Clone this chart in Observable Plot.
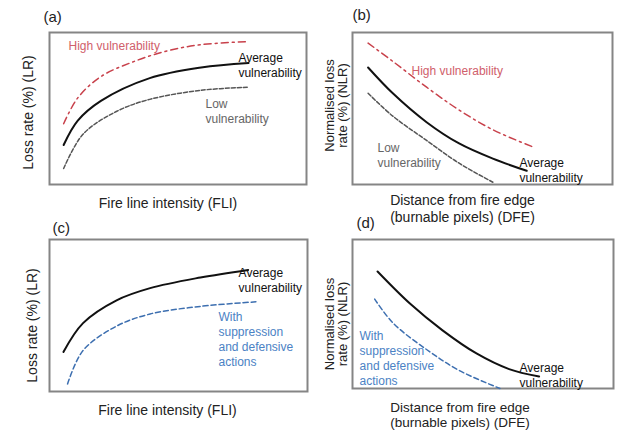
<!DOCTYPE html>
<html><head><meta charset="utf-8">
<script src="https://cdn.jsdelivr.net/npm/d3@7"></script>
<script src="https://cdn.jsdelivr.net/npm/@observablehq/plot@0.6"></script>
<style>
body{margin:0;background:#fff}
#chart{position:relative;width:618px;height:433px;font-family:"Liberation Sans",Arial,sans-serif;overflow:hidden}
#chart svg{position:absolute}
</style>
</head><body><div id="chart"></div>
<script>
// ---- Data (conceptual curves, normalised 0..1 within each panel) ----
const aAvgX  = [0.055, 0.11, 0.2, 0.39, 0.59, 0.775];
const aAvgY  = [0.26, 0.42, 0.55, 0.70, 0.77, 0.80];
const aHighX = [0.055, 0.11, 0.2, 0.33, 0.46, 0.59, 0.77];
const aHighY = [0.40, 0.57, 0.71, 0.81, 0.88, 0.92, 0.94];
const aLowX  = [0.055, 0.13, 0.26, 0.39, 0.59, 0.775];
const aLowY  = [0.105, 0.33, 0.48, 0.56, 0.62, 0.64];

const bAvgX  = [0.06, 0.155, 0.285, 0.41, 0.54, 0.67];
const bAvgY  = [0.77, 0.60, 0.41, 0.27, 0.17, 0.09];
const bHighX = [0.06, 0.155, 0.285, 0.41, 0.54, 0.69];
const bHighY = [0.93, 0.81, 0.64, 0.49, 0.36, 0.25];
const bLowX  = [0.06, 0.155, 0.285, 0.41, 0.54];
const bLowY  = [0.60, 0.45, 0.29, 0.14, 0.015];

const cAvgX  = [0.054, 0.13, 0.26, 0.39, 0.585, 0.77];
const cAvgY  = [0.26, 0.45, 0.60, 0.68, 0.75, 0.80];
const cSupX  = [0.07, 0.13, 0.26, 0.39, 0.585, 0.80];
const cSupY  = [0.05, 0.27, 0.43, 0.51, 0.56, 0.59];

const dAvgX  = [0.096, 0.22, 0.345, 0.475, 0.60, 0.715];
const dAvgY  = [0.785, 0.57, 0.39, 0.235, 0.13, 0.08];
const dSupX  = [0.085, 0.155, 0.285, 0.41, 0.565];
const dSupY  = [0.60, 0.44, 0.26, 0.12, 0.0];

// annotation texts and their anchor points (data units)
const aNotes = [
  {t: "High vulnerability", x: 0.074, y: 0.915, k: "high"},
  {t: "Average\nvulnerability", x: 0.735, y: 0.79, k: "avg"},
  {t: "Low\nvulnerability", x: 0.607, y: 0.487, k: "low"}
];
const bNotes = [
  {t: "High vulnerability", x: 0.227, y: 0.75, k: "high"},
  {t: "Low\nvulnerability", x: 0.096, y: 0.194, k: "low"},
  {t: "Average\nvulnerability", x: 0.642, y: 0.099, k: "avg"}
];
const cNotes = [
  {t: "Average\nvulnerability", x: 0.733, y: 0.734, k: "avg"},
  {t: "With\nsuppression\nand defensive\nactions", x: 0.655, y: 0.349, k: "sup"}
];
const dNotes = [
  {t: "With\nsuppression\nand defensive\nactions", x: 0.027, y: 0.205, k: "sup"},
  {t: "Average\nvulnerability", x: 0.64, y: 0.09, k: "avg"}
];

const panelLetters = ["(a)", "(b)", "(c)", "(d)"];
const xLabels = ["Fire line intensity (FLI)", "Distance from fire edge\n(burnable pixels) (DFE)",
                 "Fire line intensity (FLI)", "Distance from fire edge\n(burnable pixels) (DFE)"];
const yLabels = ["Loss rate (%) (LR)", "Normalised loss\nrate (%) (NLR)",
                 "Loss rate (%) (LR)", "Normalised loss\nrate (%) (NLR)"];

// ---- styles ----
const lineStyle = {
  avg:  {stroke: "#111", strokeWidth: 2, strokeDasharray: null},
  high: {stroke: "#c8414b", strokeWidth: 1.5, strokeDasharray: "7,4,2,4"},
  low:  {stroke: "#555", strokeWidth: 1.5, strokeDasharray: "4,2"},
  sup:  {stroke: "#3d6fb0", strokeWidth: 1.5, strokeDasharray: "5,3"}
};
const textColor = {avg: "#111", high: "#d0606b", low: "#666", sup: "#4b82c4"};

const zip = (xs, ys) => xs.map((x, i) => ({x, y: ys[i]}));

const panels = [
  {series: [["high", aHighX, aHighY], ["avg", aAvgX, aAvgY], ["low", aLowX, aLowY]], notes: aNotes,
   box: {L: 0, T: 0, W: 309, H: 222, ml: 49, mr: 3, mt: 32, mb: 38},
   letter: {dx: -6, dy: -15}, xl: {dx: -10, dy: 18}, yl: {dx: -21, dy: 4, fs: 14, lh: 1}},
  {series: [["high", bHighX, bHighY], ["avg", bAvgX, bAvgY], ["low", bLowX, bLowY]], notes: bNotes,
   box: {L: 309, T: 0, W: 309, H: 224, ml: 43, mr: 6, mt: 32, mb: 40},
   letter: {dx: 0, dy: -17}, xl: {dx: -20, dy: 24}, yl: {dx: -16, dy: -3, fs: 13, lh: 0.95}},
  {series: [["avg", cAvgX, cAvgY], ["sup", cSupX, cSupY]], notes: cNotes,
   box: {L: 0, T: 216, W: 309, H: 217, ml: 49, mr: 2, mt: 23, mb: 42},
   letter: {dx: 3, dy: -11}, xl: {dx: -11, dy: 18}, yl: {dx: -17, dy: 10, fs: 14, lh: 1}},
  {series: [["avg", dAvgX, dAvgY], ["sup", dSupX, dSupY]], notes: dNotes,
   box: {L: 309, T: 216, W: 309, H: 217, ml: 43, mr: 5, mt: 23, mb: 45},
   letter: {dx: 4, dy: -16}, xl: {dx: -23, dy: 26, fs: 13.5, lh: 1.15}, yl: {dx: -16, dy: 10, fs: 13, lh: 0.95}}
];

const chart = document.getElementById("chart");
panels.forEach((p, i) => {
  const b = p.box;
  const marks = [
    Plot.frame({stroke: "#858585", strokeWidth: 2})
  ];
  p.series.forEach(([k, xs, ys]) => {
    const s = lineStyle[k];
    marks.push(Plot.line(zip(xs, ys), {x: "x", y: "y", curve: "catmull-rom",
      stroke: s.stroke, strokeWidth: s.strokeWidth, strokeDasharray: s.strokeDasharray}));
  });
  marks.push(Plot.text(p.notes, {x: "x", y: "y", text: "t", textAnchor: "start",
    fill: d => textColor[d.k], fontSize: 12, lineHeight: 1.25}));
  marks.push(Plot.text([panelLetters[i]], {frameAnchor: "top-left", textAnchor: "start", lineAnchor: "middle",
    dx: p.letter.dx, dy: p.letter.dy, fontSize: 15, fill: "#222"}));
  marks.push(Plot.text([xLabels[i]], {frameAnchor: "bottom", textAnchor: "middle", lineAnchor: "middle",
    dx: p.xl.dx, dy: p.xl.dy, fontSize: p.xl.fs || 14, lineHeight: p.xl.lh || 1.2, fill: "#222"}));
  marks.push(Plot.text([yLabels[i]], {frameAnchor: "left", textAnchor: "middle", lineAnchor: "middle",
    rotate: -90, dx: p.yl.dx, dy: p.yl.dy, fontSize: p.yl.fs, lineHeight: p.yl.lh, fill: "#222"}));

  const svg = Plot.plot({
    width: b.W, height: b.H,
    marginLeft: b.ml, marginRight: b.mr, marginTop: b.mt, marginBottom: b.mb,
    x: {domain: [0, 1], axis: null},
    y: {domain: [0, 1], axis: null},
    style: {background: "transparent", fontFamily: "Liberation Sans, Arial, sans-serif", overflow: "visible"},
    marks
  });
  svg.style.left = b.L + "px";
  svg.style.top = b.T + "px";
  chart.appendChild(svg);
});
</script></body></html>
